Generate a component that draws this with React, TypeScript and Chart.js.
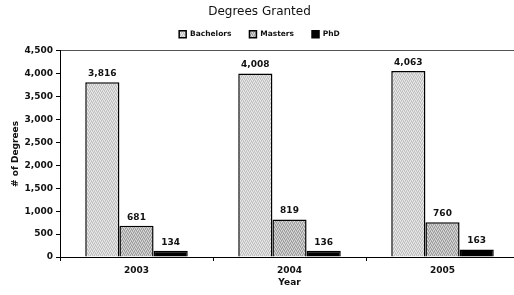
import React, { useEffect, useRef } from "react";
import { Chart, registerables } from "chart.js";

Chart.register(...registerables);

const years = ["2003", "2004", "2005"];
const bachelors = [3816, 4008, 4063];
const masters = [681, 819, 760];
const phd = [134, 136, 163];
const seriesNames = ["Bachelors", "Masters", "PhD"];
const yTicks = [0, 500, 1000, 1500, 2000, 2500, 3000, 3500, 4000, 4500];

function makePattern(light: boolean): CanvasPattern | string {
  const c = document.createElement("canvas");
  c.width = 4;
  c.height = 4;
  const g = c.getContext("2d");
  if (!g) return light ? "#d2d2d2" : "#bbbbbb";
  const a = light
    ? ["#ececec", "#bdbdbd", "#dadada", "#cacaca"]
    : ["#dcdcdc", "#9a9a9a", "#c2c2c2", "#acacac"];
  const grid = [
    [0, 1, 2, 3],
    [2, 3, 0, 1],
    [1, 0, 3, 2],
    [3, 2, 1, 0],
  ];
  for (let y = 0; y < 4; y++)
    for (let x = 0; x < 4; x++) {
      g.fillStyle = a[grid[y][x]];
      g.fillRect(x, y, 1, 1);
    }
  const p = g.createPattern(c, "repeat");
  return p || (light ? "#d2d2d2" : "#bbbbbb");
}

const fmt = (v: number) => v.toLocaleString("en-US");

const valueLabels = {
  id: "valueLabels",
  afterDatasetsDraw(chart: any) {
    const ctx = chart.ctx;
    ctx.save();
    ctx.font = "bold 9px 'DejaVu Sans'";
    ctx.fillStyle = "#111";
    ctx.textAlign = "center";
    ctx.textBaseline = "bottom";
    chart.data.datasets.forEach((ds: any, i: number) => {
      const meta = chart.getDatasetMeta(i);
      meta.data.forEach((bar: any, j: number) => {
        ctx.fillText(fmt(ds.data[j]), bar.x, bar.y - 4);
      });
    });
    ctx.restore();
  },
};

// adds a little space between the legend and the plot area
const legendGap = {
  id: "legendGap",
  afterInit(chart: any) {
    const lg = chart.legend;
    if (!lg) return;
    const orig = lg.fit.bind(lg);
    lg.fit = () => {
      orig();
      lg.height += 3;
    };
  },
};

export default function App() {
  const ref = useRef<HTMLCanvasElement>(null);
  useEffect(() => {
    if (!ref.current) return;
    const font = "'DejaVu Sans', Verdana, sans-serif";
    const chart = new Chart(ref.current, {
      type: "bar",
      data: {
        labels: years,
        datasets: [
          {
            label: seriesNames[0],
            data: bachelors,
            backgroundColor: makePattern(true) as any,
            borderColor: "#000",
            borderWidth: 1.5,
          },
          {
            label: seriesNames[1],
            data: masters,
            backgroundColor: makePattern(false) as any,
            borderColor: "#000",
            borderWidth: 1.5,
          },
          {
            label: seriesNames[2],
            data: phd,
            backgroundColor: "#000",
            borderColor: "#000",
            borderWidth: 1.5,
          },
        ],
      },
      options: {
        animation: false,
        responsive: false,
        devicePixelRatio: 1,
        layout: { padding: { left: 0, right: 25, top: 0, bottom: 0 } },
        datasets: {
          bar: { barPercentage: 1, categoryPercentage: 0.67 },
        },
        plugins: {
          tooltip: { enabled: false },
          title: {
            display: true,
            text: "Degrees Granted",
            color: "#111",
            font: { family: font, size: 12, weight: "normal" },
            padding: { top: 5, bottom: -7 },
          },
          legend: {
            display: true,
            labels: {
              color: "#111",
              boxWidth: 7,
              boxHeight: 7,
              padding: 18,
              font: { family: font, size: 7.5, weight: "bold" },
            },
          },
        },
        scales: {
          x: {
            offset: true,
            grid: {
              display: true,
              offset: true,
              drawOnChartArea: false,
              tickColor: "#000",
              tickLength: 4,
            },
            border: { color: "#000", width: 1 },
            ticks: {
              color: "#111",
              font: { family: font, size: 9, weight: "bold" },
              padding: 4,
            },
            title: {
              display: true,
              text: "Year",
              color: "#111",
              font: { family: font, size: 9, weight: "bold" },
              padding: { top: 4, bottom: 7 },
            },
            afterFit: (s: any) => {
              s.height = 38;
            },
          },
          y: {
            min: 0,
            max: 4500,
            afterBuildTicks: (s: any) => {
              s.ticks = yTicks.map((v) => ({ value: v }));
            },
            grid: {
              display: true,
              drawOnChartArea: true,
              color: (c: any) =>
                c.tick && c.tick.value === 4500 ? "#555" : "transparent",
              tickColor: "#000",
              tickLength: 4,
            },
            border: { color: "#000", width: 1 },
            ticks: {
              color: "#111",
              font: { family: font, size: 9, weight: "bold" },
              padding: 3,
              callback: (v: any) => fmt(Number(v)),
            },
            title: {
              display: true,
              text: "# of Degrees",
              color: "#111",
              font: { family: font, size: 9, weight: "bold" },
              padding: { top: 10, bottom: 4 },
            },
            afterFit: (s: any) => {
              s.width = 60;
            },
          },
        },
      },
      plugins: [valueLabels, legendGap],
    });
    return () => chart.destroy();
  }, []);
  return (
    <div
      style={{
        position: "absolute",
        left: 0,
        top: 0,
        width: 514,
        height: 295,
        overflow: "hidden",
        background: "#fff",
      }}
    >
      <canvas ref={ref} width={544} height={295} style={{ display: "block" }} />
    </div>
  );
}
